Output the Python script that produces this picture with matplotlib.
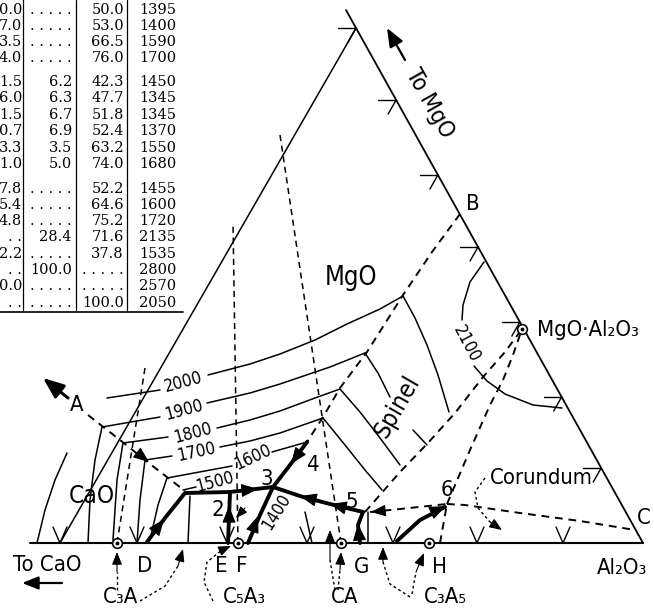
import matplotlib.pyplot as plt
from matplotlib import font_manager

# font for the hand lettering: a narrow / condensed sans if there is one
lab_family, lab_stretch, k = 'DejaVu Sans', 'normal', 0.78
found = {}
for f in font_manager.fontManager.ttflist:
    if f.style != 'normal' or str(f.weight) not in ('400', 'normal', 'regular'):
        continue
    if f.name == 'Liberation Sans Narrow':
        found['narrow'] = (f.name, 'normal', 1.0)
    elif 'condensed' in str(f.stretch) and f.name in ('DejaVu Sans', 'Noto Sans', 'Open Sans', 'Roboto'):
        found.setdefault('cond', (f.name, f.stretch, 0.88))
if 'narrow' in found:
    lab_family, lab_stretch, k = found['narrow']
elif 'cond' in found:
    lab_family, lab_stretch, k = found['cond']

# ---- table (CaO, MgO, Al2O3, temperature); CaO column is cut by the page edge ----
dots = '. . . . .'
col_cao = ['0.0', '7.0', '3.5', '4.0', '1.5', '6.0', '1.5', '0.7', '3.3', '1.0',
           '7.8', '5.4', '4.8', '. .', '2.2', '. .', '0.0', '. .']
col_mgo = [dots, dots, dots, dots, '6.2', '6.3', '6.7', '6.9', '3.5', '5.0',
           dots, dots, dots, '28.4', dots, '100.0', dots, dots]
col_al = ['50.0', '53.0', '66.5', '76.0', '42.3', '47.7', '51.8', '52.4', '63.2', '74.0',
          '52.2', '64.6', '75.2', '71.6', '37.8', dots, dots, '100.0']
col_temp = ['1395', '1400', '1590', '1700', '1450', '1345', '1345', '1370', '1550', '1680',
            '1455', '1600', '1720', '2135', '1535', '2800', '2570', '2050']
row_y = [10, 26, 42, 58, 82, 98, 115, 131, 148, 164, 189, 205, 221, 237, 254, 270, 286, 303]

# ---- diagram geometry (drawing coordinates, y downwards) ----
base = [(30, 543), (643, 543)]
right_edge = [(346, 10), (643, 543)]
left_edge = [(355, 30), (60, 543)]
edge_marks_y = [28, 100, 175, 247, 322, 397, 468]
base_marks_x = [60, 137, 227, 307, 393, 477, 563]

compounds = {'C3A': (117, 543), 'C5A3': (238, 543), 'CA': (341, 543),
             'C3A5': (429, 543), 'MA': (522, 329)}

joins = [[(117, 543), (145, 368)],
         [(238, 543), (233, 223)],
         [(341, 543), (280, 135)]]

dashed_bounds = [
    [(88, 415), (120, 440), (150, 464), (185, 491)],
    [(460, 214), (432, 252), (403, 295), (367, 352), (340, 388), (323, 417), (307, 442)],
    [(365, 512), (400, 472), (427, 444), (455, 413), (483, 377), (505, 352), (522, 329)],
    [(447, 504), (470, 450), (490, 405), (503, 380), (513, 355), (522, 329)],
    [(440, 543), (447, 504)],
    [(370, 512), (400, 509), (447, 504)],
    [(447, 504), (465, 505), (520, 513), (580, 521), (635, 530)],
]

thick_bounds = [
    [(147, 542), (165, 518), (185, 493), (230, 492), (273, 487)],
    [(228, 543), (230, 493)],
    [(248, 543), (260, 515), (273, 487)],
    [(273, 487), (290, 465), (307, 442)],
    [(363, 512), (330, 504), (303, 497), (273, 487)],
    [(363, 512), (358, 525), (360, 543)],
    [(397, 541), (420, 520), (445, 507)],
]
thick_heads = [((155, 531), (164, 519)), ((247, 490), (258, 489)), ((229, 518), (229, 506)),
               ((254, 527), (258, 516)), ((299, 453), (291, 464)), ((312, 499), (300, 496)),
               ((342, 507), (330, 504)), ((359, 535), (358, 524)), ((433, 512), (446, 506))]

isotherms = [
    [(107, 398), (160, 390)],
    [(208, 375), (250, 364), (280, 354), (315, 340), (347, 324), (380, 309), (403, 296)],
    [(403, 296), (415, 318), (427, 345), (438, 375), (449, 412)],
    [(102, 427), (160, 417)],
    [(207, 403), (250, 393), (280, 384), (330, 367), (365, 353)],
    [(365, 353), (378, 373), (390, 397)],
    [(413, 430), (427, 445)],
    [(102, 427), (95, 460), (90, 500), (88, 543)],
    [(123, 443), (168, 437)],
    [(217, 428), (250, 420), (280, 411), (315, 398), (340, 389)],
    [(340, 389), (360, 412), (380, 438), (400, 465)],
    [(123, 443), (117, 480), (113, 540)],
    [(145, 460), (172, 456)],
    [(220, 447), (250, 441), (280, 433), (323, 418)],
    [(323, 418), (345, 445), (365, 470), (382, 490)],
    [(145, 460), (140, 500), (137, 543)],
    [(167, 478), (232, 466)],
    [(272, 452), (307, 442)],
    [(167, 478), (158, 505), (150, 540)],
    [(183, 490), (196, 487)],
    [(67, 453), (55, 480), (45, 510), (37, 543)],
    [(484, 262), (470, 282), (463, 305), (462, 320)],
    [(474, 366), (487, 381), (505, 394), (533, 405), (562, 408)],
    [(190, 496), (188, 543)],
    [(368, 512), (368, 543)],
    [(305, 512), (312, 543)],
]

# curved dashed pointers from the compound names
pointers = [
    [(117, 590), (117, 572), (117, 552)],
    [(140, 601), (165, 586), (178, 566), (183, 549)],
    [(213, 601), (204, 582), (207, 562), (222, 550), (231, 546)],
    [(338, 590), (340, 570), (341, 552)],
    [(335, 590), (330, 560), (330, 530)],
    [(412, 594), (416, 572), (424, 553)],
    [(410, 597), (390, 584), (383, 562), (383, 547)],
    [(485, 478), (475, 492), (478, 508), (490, 522), (502, 530)],
]

labels = [
    ('To MgO', 430, 103, 19, -60.5), ('B', 473, 204, 18, 0), ('MgO', 351, 278, 21, 0),
    ('MgO·Al₂O₃', 537, 330, 18, 0), ('2100', 466, 344, 14, -62),
    ('Spinel', 397, 407, 20, 60), ('2000', 183, 382, 14, 15), ('1900', 184, 410, 14, 15),
    ('1800', 193, 433, 14, 15), ('1700', 196, 452, 14, 12), ('1600', 253, 457, 14, 25),
    ('1500', 215, 482, 14, 15), ('1400', 276, 512, 14, 58), ('A', 77, 405, 18, 0),
    ('CaO', 92, 496, 20, 0), ('Corundum', 541, 478, 18, 0), ('C', 644, 518, 18, 0),
    ('Al₂O₃', 622, 568, 18, 0), ('2', 218, 510, 18, 0), ('3', 267, 479, 18, 0),
    ('4', 313, 465, 18, 0), ('5', 352, 502, 18, 0), ('6', 447, 490, 18, 0),
    ('To CaO', 47, 565, 18, 0), ('D', 145, 566, 18, 0), ('E', 221, 566, 18, 0),
    ('F', 242, 566, 18, 0), ('G', 362, 567, 18, 0), ('H', 440, 567, 18, 0),
    ('C₃A', 120, 597, 18, 0), ('C₅A₃', 244, 597, 18, 0), ('CA', 345, 597, 18, 0),
    ('C₃A₅', 445, 597, 18, 0),
]

fig = plt.figure(figsize=(6.54, 6.10), dpi=100)
ax = fig.add_axes([0, 0, 1, 1])
ax.set_xlim(0, 654)
ax.set_ylim(610, 0)
ax.axis('off')


def line(pts, lw=1.1, ls='-'):
    xs, ys = zip(*pts)
    ax.plot(xs, ys, color='k', lw=lw, ls=ls, solid_capstyle='round')


def head(tail, tip, ms=13, lw=0.8):
    ax.annotate('', xy=tip, xytext=tail,
                arrowprops=dict(arrowstyle='-|>,head_length=0.7,head_width=0.28', color='k',
                                lw=lw, shrinkA=0, shrinkB=0, mutation_scale=ms))


# table
for i, y in enumerate(row_y):
    ax.text(22, y, col_cao[i], ha='right', va='center', family='DejaVu Serif', fontsize=10.5)
    ax.text(72, y, col_mgo[i], ha='right', va='center', family='DejaVu Serif', fontsize=10.5)
    ax.text(124, y, col_al[i], ha='right', va='center', family='DejaVu Serif', fontsize=10.5)
    ax.text(139, y, col_temp[i], ha='left', va='center', family='DejaVu Serif', fontsize=10.5)
for xv in [23, 76, 127]:
    line([(xv, 0), (xv, 310)], lw=0.9)
line([(0, 312), (183, 312)], lw=1.2)

# triangle and marks
line(base, lw=1.5)
line(right_edge, lw=1.3)
line(left_edge, lw=1.1)
for y in edge_marks_y:
    xe = 346 + (y - 10) * 297 / 533
    line([(xe - 18, y), (xe, y)], lw=1.0)
    line([(xe, y), (xe - 8, y + 14)], lw=1.0)
for x in base_marks_x:
    line([(x - 7, 527), (x, 543), (x + 7, 527)], lw=1.0)

dash = (0, (4, 3))
for j in joins:
    line(j, lw=1.1, ls=dash)
for d in dashed_bounds:
    line(d, lw=1.4, ls=dash)
for t in thick_bounds:
    line(t, lw=2.8)
for tail, tip in thick_heads:
    head(tail, tip, ms=15)
for iso in isotherms:
    line(iso, lw=1.1)
for p in pointers:
    line(p[:-1], lw=1.0, ls=(0, (2, 2)))
    head(p[-2], p[-1], ms=11)

head((140, 455), (149, 462), ms=14)          # arrow on boundary A
head((381, 511), (371, 512), ms=13)          # arrow 6 -> 5
head((245, 508), (236, 518), ms=10)          # small arrow near 2
head((68, 398), (43, 378), ms=18, lw=2.2)    # A
head((405, 60), (387, 28), ms=16, lw=1.6)    # to MgO
head((62, 583), (22, 583), ms=14, lw=1.6)    # to CaO

for x, y in compounds.values():
    ax.plot(x, y, 'o', ms=7, mfc='white', mec='k', mew=1.2)
    ax.plot(x, y, 'o', ms=1.8, color='k')

for txt, x, y, size, rot in labels:
    ha = 'left' if txt.startswith('MgO·') else 'center'
    ax.text(x, y, txt, ha=ha, va='center', fontsize=size * k, rotation=rot,
            rotation_mode='anchor', family=[lab_family, 'DejaVu Sans'], stretch=lab_stretch)

fig.savefig('out.png', dpi=100)
